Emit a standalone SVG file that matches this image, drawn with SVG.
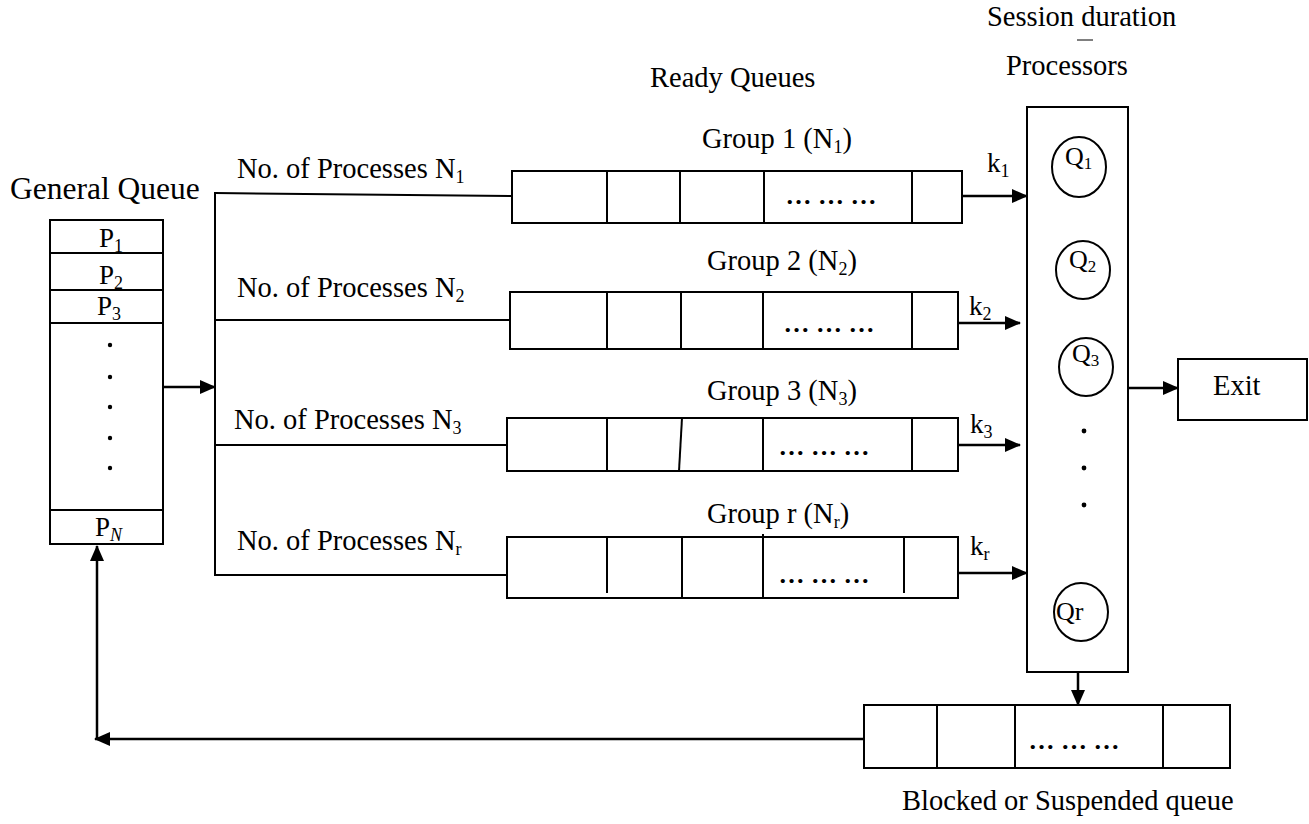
<svg xmlns="http://www.w3.org/2000/svg" width="1309" height="824" viewBox="0 0 1309 824">
<defs>
<marker id="ah" markerWidth="16" markerHeight="14" refX="15" refY="7" orient="auto" markerUnits="userSpaceOnUse"><path d="M0,0 L16,7 L0,14 Z" fill="#000"/></marker>
</defs>
<style>
text{font-family:"Liberation Serif","Times New Roman",serif;fill:#000}
.t{font-size:28.5px}
.big{font-size:31.5px}
.lab{font-size:27px}
.q{font-size:26px}
.box{fill:#fff;stroke:#000;stroke-width:2}
.ln{stroke:#000;stroke-width:2;fill:none}
.ar{stroke:#000;stroke-width:2.5;fill:none;marker-end:url(#ah)}
.sub{font-size:18px}
.qs{font-size:17px}
.dots{font-size:26px;font-weight:bold;text-anchor:middle}
.dot{fill:#000}
</style>
<rect width="1309" height="824" fill="#fff"/>

<g id="titles">
<text class="big" x="10" y="199">General Queue</text>
<text class="t" x="650" y="87">Ready Queues</text>
<text class="t" x="987" y="26">Session duration</text>
<line x1="1077" y1="40" x2="1093" y2="40" stroke="#000" stroke-width="1"/>
<text class="t" x="1006" y="75">Processors</text>
<text class="t" x="902" y="810">Blocked or Suspended queue</text>
</g>

<g id="general-queue">
<rect class="box" x="50" y="220" width="113" height="324"/>
<line class="ln" x1="50" y1="253" x2="163" y2="253"/>
<line class="ln" x1="50" y1="290" x2="163" y2="290"/>
<line class="ln" x1="50" y1="323" x2="163" y2="323"/>
<line class="ln" x1="50" y1="510" x2="163" y2="510"/>
<text class="lab" x="99" y="247">P<tspan class="sub" dy="5">1</tspan></text>
<text class="lab" x="99" y="284">P<tspan class="sub" dy="5">2</tspan></text>
<text class="lab" x="97" y="315">P<tspan class="sub" dy="5">3</tspan></text>
<circle class="dot" cx="110" cy="345" r="2.2"/>
<circle class="dot" cx="110" cy="377" r="2.2"/>
<circle class="dot" cx="110" cy="407" r="2.2"/>
<circle class="dot" cx="110" cy="438" r="2.2"/>
<circle class="dot" cx="110" cy="468" r="2.2"/>
<text class="lab" x="95" y="536">P<tspan class="sub" dy="5" font-style="italic">N</tspan></text>
</g>

<g id="labels-processes">
<text class="t" x="237" y="178">No. of Processes N<tspan class="sub" dy="5">1</tspan></text>
<text class="t" x="237" y="297">No. of Processes N<tspan class="sub" dy="5">2</tspan></text>
<text class="t" x="234" y="429">No. of Processes N<tspan class="sub" dy="5">3</tspan></text>
<text class="t" x="237" y="550">No. of Processes N<tspan class="sub" dy="5">r</tspan></text>
</g>

<g id="queue-1">
<text class="t" x="702" y="148">Group 1 (N<tspan class="sub" dy="5">1</tspan><tspan dy="-5">)</tspan></text>
<rect class="box" x="512" y="171" width="450" height="52"/>
<line class="ln" x1="607" y1="171" x2="607" y2="223"/>
<line class="ln" x1="680" y1="171" x2="680" y2="223"/>
<line class="ln" x1="764" y1="171" x2="764" y2="223"/>
<line class="ln" x1="912" y1="171" x2="912" y2="223"/>
<text class="dots" x="831" y="204">… … …</text>
</g>

<g id="queue-2">
<text class="t" x="707" y="270">Group 2 (N<tspan class="sub" dy="5">2</tspan><tspan dy="-5">)</tspan></text>
<rect class="box" x="510" y="292" width="448" height="57"/>
<line class="ln" x1="607" y1="292" x2="607" y2="349"/>
<line class="ln" x1="681" y1="292" x2="681" y2="349"/>
<line class="ln" x1="763" y1="292" x2="763" y2="349"/>
<line class="ln" x1="912" y1="292" x2="912" y2="349"/>
<text class="dots" x="829" y="332">… … …</text>
</g>

<g id="queue-3">
<text class="t" x="707" y="400">Group 3 (N<tspan class="sub" dy="5">3</tspan><tspan dy="-5">)</tspan></text>
<rect class="box" x="507" y="418" width="451" height="53"/>
<line class="ln" x1="607" y1="418" x2="607" y2="471"/>
<line class="ln" x1="682" y1="418" x2="679" y2="471"/>
<line class="ln" x1="763" y1="418" x2="763" y2="471"/>
<line class="ln" x1="912" y1="418" x2="912" y2="471"/>
<text class="dots" x="824" y="455">… … …</text>
</g>

<g id="queue-r">
<text class="t" x="707" y="523">Group r (N<tspan class="sub" dy="5">r</tspan><tspan dy="-5">)</tspan></text>
<rect class="box" x="507" y="537" width="451" height="61"/>
<line class="ln" x1="607" y1="537" x2="607" y2="593"/>
<line class="ln" x1="682" y1="537" x2="682" y2="598"/>
<line class="ln" x1="763" y1="534" x2="763" y2="598"/>
<line class="ln" x1="904" y1="537" x2="904" y2="593"/>
<text class="dots" x="824" y="583">… … …</text>
</g>

<g id="processors">
<rect class="box" x="1027" y="107" width="101" height="565"/>
<ellipse class="ln" cx="1079" cy="167" rx="27" ry="30"/>
<text class="q" x="1065" y="165">Q<tspan class="qs" dy="4">1</tspan></text>
<ellipse class="ln" cx="1083" cy="270" rx="27" ry="29"/>
<text class="q" x="1069" y="268">Q<tspan class="qs" dy="4">2</tspan></text>
<ellipse class="ln" cx="1086" cy="367" rx="27" ry="29"/>
<text class="q" x="1072" y="362">Q<tspan class="qs" dy="4">3</tspan></text>
<circle class="dot" cx="1084" cy="431" r="2.4"/>
<circle class="dot" cx="1084" cy="468" r="2.4"/>
<circle class="dot" cx="1084" cy="505" r="2.4"/>
<ellipse class="ln" cx="1081" cy="612" rx="27" ry="29"/>
<text class="q" x="1056" y="620">Qr</text>
</g>

<g id="exit">
<rect class="box" x="1178" y="359" width="129" height="61"/>
<text class="t" x="1213" y="395">Exit</text>
</g>

<g id="blocked-queue">
<rect class="box" x="864" y="705" width="366" height="63"/>
<line class="ln" x1="937" y1="705" x2="937" y2="768"/>
<line class="ln" x1="1015" y1="705" x2="1015" y2="768"/>
<line class="ln" x1="1163" y1="705" x2="1163" y2="768"/>
<text class="dots" x="1074" y="749">… … …</text>
</g>

<g id="connectors">
<line class="ar" x1="163" y1="387" x2="215" y2="387"/>
<line class="ln" x1="215" y1="192" x2="215" y2="576"/>
<line class="ln" x1="215" y1="193" x2="512" y2="196"/>
<line class="ln" x1="215" y1="320" x2="510" y2="320"/>
<line class="ln" x1="215" y1="445" x2="507" y2="445"/>
<line class="ln" x1="215" y1="575" x2="507" y2="575"/>
<line class="ar" x1="962" y1="196" x2="1027" y2="196"/>
<text class="lab" x="987" y="172">k<tspan class="sub" dy="5">1</tspan></text>
<line class="ar" x1="958" y1="323" x2="1020" y2="323"/>
<text class="lab" x="969" y="315">k<tspan class="sub" dy="5">2</tspan></text>
<line class="ar" x1="958" y1="445" x2="1020" y2="445"/>
<text class="lab" x="970" y="433">k<tspan class="sub" dy="5">3</tspan></text>
<line class="ar" x1="958" y1="573" x2="1027" y2="573"/>
<text class="lab" x="970" y="555">k<tspan class="sub" dy="5">r</tspan></text>
<line class="ar" x1="1128" y1="388" x2="1178" y2="388"/>
<line class="ar" x1="1078" y1="672" x2="1078" y2="705"/>
<line class="ar" x1="864" y1="739" x2="95" y2="739"/>
<line class="ar" x1="97" y1="740" x2="97" y2="546"/>
</g>
</svg>
